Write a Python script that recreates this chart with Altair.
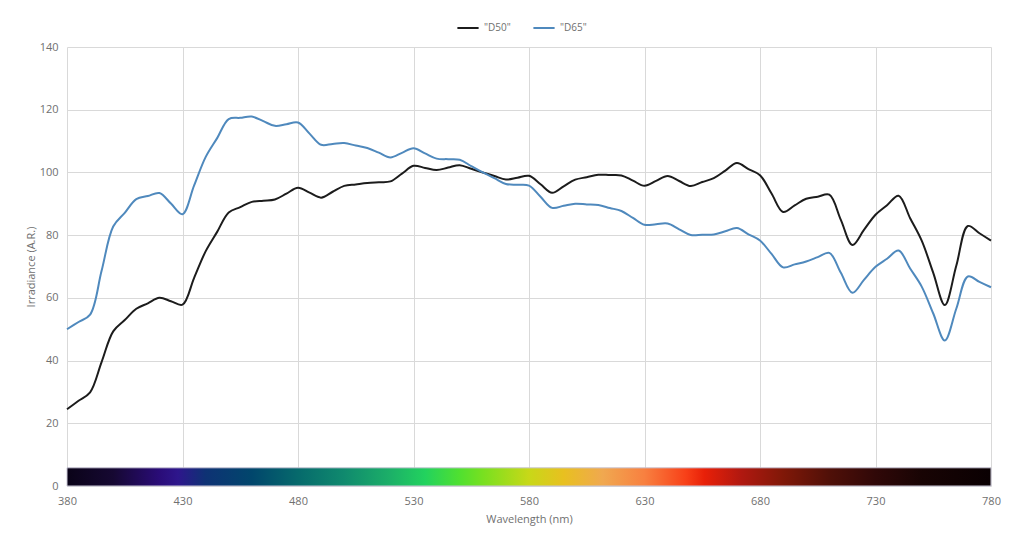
import altair as alt
import pandas as pd

wavelength = list(range(380, 781, 5))

d50 = [24.49, 27.18, 29.87, 39.59, 49.31, 52.91, 56.51, 58.27, 60.03, 58.93,
       57.82, 66.32, 74.82, 81.04, 87.25, 88.93, 90.61, 90.99, 91.37, 93.24,
       95.11, 93.54, 91.96, 93.84, 95.72, 96.17, 96.61, 96.87, 97.13, 99.61,
       102.10, 101.43, 100.75, 101.54, 102.32, 101.16, 100.00, 98.87, 97.74, 98.33,
       98.92, 96.21, 93.50, 95.59, 97.69, 98.48, 99.27, 99.16, 99.04, 97.38,
       95.72, 97.29, 98.86, 97.26, 95.67, 96.93, 98.19, 100.60, 103.00, 101.07,
       99.13, 93.26, 87.38, 89.49, 91.60, 92.25, 92.89, 84.87, 76.85, 81.68,
       86.51, 89.55, 92.58, 85.40, 78.23, 67.96, 57.69, 70.31, 82.92, 80.60, 78.27]

d65 = [49.98, 52.31, 54.65, 68.70, 82.75, 87.12, 91.49, 92.46, 93.43, 90.06,
       86.68, 95.77, 104.87, 110.94, 117.01, 117.41, 117.81, 116.34, 114.86, 115.39,
       115.92, 112.37, 108.81, 109.08, 109.35, 108.58, 107.80, 106.30, 104.79, 106.24,
       107.69, 106.05, 104.41, 104.23, 104.05, 102.02, 100.00, 98.17, 96.33, 96.06,
       95.79, 92.24, 88.69, 89.35, 90.01, 89.80, 89.60, 88.65, 87.70, 85.49,
       83.29, 83.49, 83.70, 81.86, 80.03, 80.12, 80.21, 81.25, 82.28, 80.28,
       78.28, 74.00, 69.72, 70.67, 71.61, 72.98, 74.35, 67.98, 61.60, 65.74,
       69.89, 72.49, 75.09, 69.34, 63.59, 55.01, 46.42, 56.61, 66.81, 65.09, 63.38]

series_names = ['"D50"', '"D65"']
series_colors = ["#1c1c1c", "#4f89bd"]

x_ticks = [380, 430, 480, 530, 580, 630, 680, 730, 780]
y_ticks = [0, 20, 40, 60, 80, 100, 120, 140]

# spectrum bar gradient stops (wavelength -> colour)
stop_nm = [380, 400, 420, 428, 440, 460, 480, 500, 520, 535, 550, 560, 580,
           595, 612, 630, 648, 656, 672, 690, 710, 730, 750, 780]
stop_col = ["#0a0318", "#160832", "#2a0c78", "#2e168c", "#0e3274", "#01466c",
            "#066a6c", "#108a6e", "#1cb068", "#22d25e", "#50e030", "#78e020",
            "#c8d818", "#e8c020", "#f0a850", "#f88040", "#f84018", "#e82008",
            "#b01810", "#801808", "#501008", "#300808", "#180404", "#0a0002"]
bar_x = [380]
bar_x2 = [780]
bar_y = [0]
bar_y2 = [5.8]

rows = []
for name, vals in zip(series_names, [d50, d65]):
    for w, v in zip(wavelength, vals):
        rows.append({"Wavelength": w, "Irradiance": v, "Series": name})
df = pd.DataFrame(rows)

bar_df = pd.DataFrame({"x": bar_x, "x2": bar_x2, "y": bar_y, "y2": bar_y2})

grad = alt.LinearGradient(
    gradient="linear",
    x1=0, x2=1, y1=0, y2=0,
    stops=[alt.GradientStop(offset=(n - 380) / 400, color=c) for n, c in zip(stop_nm, stop_col)],
)

xscale = alt.Scale(domain=[380, 780], nice=False, zero=False)
yscale = alt.Scale(domain=[0, 140], nice=False)

text_col = "#707070"

bar = alt.Chart(bar_df).mark_rect(fill=grad, stroke="#c9c6d6", strokeWidth=1).encode(
    x=alt.X("x:Q", scale=xscale),
    x2="x2:Q",
    y=alt.Y("y:Q", scale=yscale),
    y2="y2:Q",
)

lines = alt.Chart(df).mark_line(interpolate="catmull-rom", strokeWidth=2).encode(
    x=alt.X("Wavelength:Q", scale=xscale,
            axis=alt.Axis(values=x_ticks, title="Wavelength (nm)", grid=True,
                          gridColor="#d9d9d9", domain=False, ticks=False,
                          labelFlush=False,
                          labelColor=text_col, labelFontSize=11, labelPadding=9,
                          titleColor=text_col, titleFontSize=11, titleFontWeight="normal",
                          titlePadding=7, labelFont="Open Sans", titleFont="Open Sans")),
    y=alt.Y("Irradiance:Q", scale=yscale,
            axis=alt.Axis(values=y_ticks, title="Irradiance (A.R.)",
                          grid=True, gridColor="#d9d9d9", domain=False, ticks=False,
                          labelColor=text_col, labelFontSize=11, labelPadding=9,
                          titleColor=text_col, titleFontSize=11, titleFontWeight="normal",
                          titlePadding=3, labelFont="Open Sans", titleFont="Open Sans")),
    color=alt.Color("Series:N",
                    scale=alt.Scale(domain=series_names, range=series_colors),
                    legend=alt.Legend(orient="none", legendX=389, legendY=-31,
                                      direction="horizontal", title=None,
                                      symbolType="stroke", symbolStrokeWidth=2,
                                      symbolSize=450, labelColor=text_col,
                                      labelFontSize=10, labelFont="Open Sans",
                                      columnPadding=18, labelOffset=4)),
    order=alt.Order("Series:N"),
)

chart = alt.layer(bar, lines).properties(
    width=924, height=439,
    padding={"left": 59, "top": 39, "right": 25, "bottom": 50},
    autosize=alt.AutoSizeParams(type="none"),
).configure_view(stroke=None)

chart.save("out.html", embed_options={"renderer": "svg", "actions": False})
